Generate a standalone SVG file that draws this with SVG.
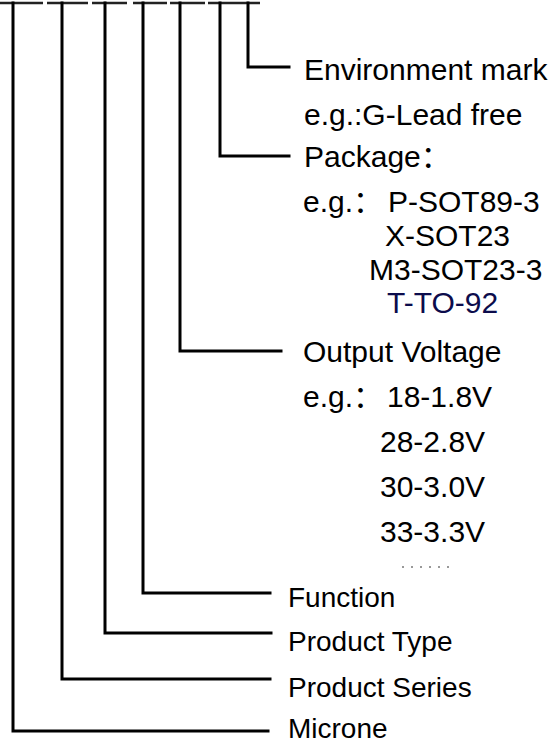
<svg xmlns="http://www.w3.org/2000/svg" width="552" height="739" viewBox="0 0 552 739">
<style>
.ln{fill:none;stroke:#000;stroke-width:3;stroke-linejoin:miter;stroke-linecap:square}
.ul{stroke:#222;stroke-width:2.5}
.t{font-family:"Liberation Sans",Arial,"Noto Sans CJK SC",sans-serif;fill:#000}
.a{font-size:30px}
.b{font-size:28px}
</style>
<rect width="552" height="739" fill="#fff"/>
<g id="underline">
<line class="ul" x1="0" y1="3" x2="43" y2="3"/>
<line class="ul" x1="47" y1="3" x2="88" y2="3"/>
<line class="ul" x1="92" y1="3" x2="127" y2="3"/>
<line class="ul" x1="133" y1="3" x2="167" y2="3"/>
<line class="ul" x1="170" y1="3" x2="205" y2="3"/>
<line class="ul" x1="208" y1="3" x2="260" y2="3"/>
</g>
<g id="connectors">
<path class="ln" d="M248 3V67H289"/>
<path class="ln" d="M220 3V156H289"/>
<path class="ln" d="M180 3V351H281"/>
<path class="ln" d="M143 3V593H270"/>
<path class="ln" d="M105 3V633H271"/>
<path class="ln" d="M62 3V679H270"/>
<path class="ln" d="M13 3V731H268"/>
</g>
<g id="env">
<text class="t a" x="304" y="80">Environment mark</text>
<text class="t a" x="304" y="125">e.g.:G-Lead free</text>
</g>
<g id="package">
<text class="t a" x="304" y="167">Package：</text>
<text class="t a" x="303" y="212">e.g.：</text>
<text class="t a" x="388" y="212">P-SOT89-3</text>
<text class="t a" x="385" y="246">X-SOT23</text>
<text class="t a" x="369" y="280">M3-SOT23-3</text>
<text class="t a" x="387" y="313" style="fill:#0c0c4c">T-TO-92</text>
</g>
<g id="voltage">
<text class="t a" x="303" y="362">Output Voltage</text>
<text class="t a" x="303" y="407">e.g.：</text>
<text class="t a" x="387" y="407">18-1.8V</text>
<text class="t a" x="380" y="452">28-2.8V</text>
<text class="t a" x="380" y="497">30-3.0V</text>
<text class="t a" x="380" y="542">33-3.3V</text>
<line x1="402" y1="567" x2="455" y2="567" stroke="#999" stroke-width="2" stroke-dasharray="2,7"/>
</g>
<g id="function"><text class="t b" x="288" y="607">Function</text></g>
<g id="type"><text class="t b" x="288" y="651">Product Type</text></g>
<g id="series"><text class="t b" x="288" y="697">Product Series</text></g>
<g id="microne"><text class="t b" x="288" y="738">Microne</text></g>
</svg>
